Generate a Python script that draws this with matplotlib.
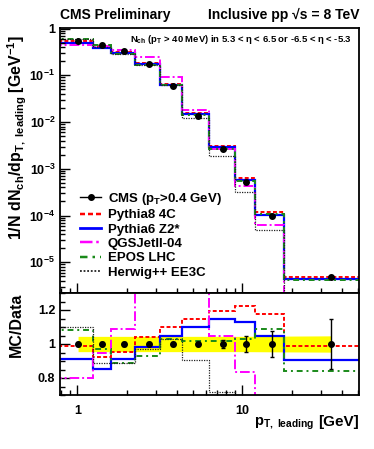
import numpy as np
import matplotlib
matplotlib.use('Agg')
import matplotlib.pyplot as plt
from matplotlib.lines import Line2D
from matplotlib.ticker import FuncFormatter, FixedLocator, LogLocator, NullFormatter

# --- Fontes (estilo ROOT, tudo em negrito) ---
plt.rcParams['font.family'] = ['Liberation Sans', 'DejaVu Sans']
plt.rcParams['font.weight'] = 'bold'
plt.rcParams['mathtext.fontset'] = 'custom'
plt.rcParams['mathtext.rm'] = 'Liberation Sans:bold'
plt.rcParams['mathtext.bf'] = 'Liberation Sans:bold'
plt.rcParams['mathtext.it'] = 'Liberation Sans:bold'
plt.rcParams['mathtext.default'] = 'bf'

# --- Dados ---
bin_edges = [0.7, 1.25, 1.6, 2.25, 3.15, 4.3, 6.3, 9.0, 12.0, 18.0, 60.0]
pt_data = [1.01, 1.42, 1.93, 2.72, 3.82, 5.41, 7.67, 10.6, 15.2, 34.5]
dn_data = [0.553, 0.454, 0.327, 0.175, 0.060, 0.0137, 2.6e-3, 5.2e-4, 9.9e-5, 4.9e-6]
stat_err = [0.01, 0.01, 0.01, 0.01, 0.01, 0.01, 0.023, 0.045, 0.075, 0.145]
syst_band = [0.045, 0.045, 0.045, 0.045, 0.045, 0.045, 0.045, 0.045, 0.046, 0.048]

# razão MC/Data por bin
ratio_pythia8 = [0.99, 0.925, 0.955, 1.04, 1.10, 1.15, 1.195, 1.225, 1.175, 0.99]
ratio_pythia6 = [0.91, 0.855, 0.91, 0.98, 1.045, 1.10, 1.148, 1.128, 1.048, 0.907]
ratio_qgsjet = [0.80, 0.95, 1.09, 1.39, 1.50, 1.33, 1.045, 0.835, 0.62, 0.30]
ratio_epos = [1.08, 0.97, 0.89, 0.93, 1.03, 1.02, 1.015, 1.03, 1.09, 0.842]
ratio_herwig = [1.10, 0.89, 0.89, 0.97, 1.03, 0.905, 0.72, 0.60, 0.49, 0.46]

models = [
    ('Pythia8 4C', ratio_pythia8, '#ff0000', (0, (2.0, 1.2)), 1.4),
    ('Pythia6 Z2*', ratio_pythia6, '#0000ff', '-', 1.6),
    ('QGSJetII-04', ratio_qgsjet, '#ff00ff', (0, (5, 1.5, 1, 1.5)), 1.4),
    ('EPOS LHC', ratio_epos, '#1a8a1a', (0, (3, 2, 1, 2)), 1.4),
    ('Herwig++ EE3C', ratio_herwig, '#222222', (0, (1, 1)), 0.9),
]

W, H = 374, 449
fig = plt.figure(figsize=(W / 100, H / 100), dpi=100)
ax_top = fig.add_axes([60 / W, 1 - 293 / H, 299 / W, 265 / H])
ax_rat = fig.add_axes([60 / W, 1 - 395 / H, 299 / W, 102 / H])

# --- Painel superior ---
dn = np.array(dn_data)
for name, r, col, ls, lw in models:
    ax_top.stairs(np.array(r) * dn, bin_edges, color=col, linestyle=ls, lw=lw, baseline=None)
ax_top.plot(pt_data, dn_data, 'o', color='black', ms=4, zorder=5)

ax_top.set_xscale('log')
ax_top.set_yscale('log')
ax_top.set_xlim(0.785, 51)
ax_top.set_ylim(2.2e-6, 1.03)
ax_top.yaxis.set_major_locator(FixedLocator([1e-5, 1e-4, 1e-3, 1e-2, 1e-1, 1]))
ax_top.yaxis.set_minor_locator(LogLocator(base=10, subs=np.arange(2, 10)))
ax_top.yaxis.set_minor_formatter(NullFormatter())
ax_top.yaxis.set_major_formatter(FuncFormatter(
    lambda v, p: '1' if abs(v - 1) < 1e-9 else r'$10^{%d}$' % round(np.log10(v))))
ax_top.xaxis.set_major_formatter(NullFormatter())
ax_top.xaxis.set_minor_formatter(NullFormatter())

# --- Painel da razão ---
ax_rat.fill_between(pt_data, 1 - np.array(syst_band), 1 + np.array(syst_band),
                    color='#ffff00', lw=0, zorder=1)
for name, r, col, ls, lw in models:
    ax_rat.stairs(r, bin_edges, color=col, linestyle=ls, lw=lw, baseline=None, zorder=2)
ax_rat.errorbar(pt_data, np.ones(len(pt_data)), yerr=stat_err, fmt='o', color='black',
                ms=4, elinewidth=1.0, capsize=1.5, zorder=5)

ax_rat.set_xscale('log')
ax_rat.set_xlim(0.785, 51)
ax_rat.set_ylim(0.7, 1.3)
ax_rat.yaxis.set_major_locator(FixedLocator([0.8, 1.0, 1.2]))
ax_rat.yaxis.set_minor_locator(FixedLocator(np.arange(0.7, 1.31, 0.05)))
ax_rat.yaxis.set_major_formatter(FuncFormatter(lambda v, p: '%g' % v))
ax_rat.xaxis.set_major_locator(FixedLocator([1, 10]))
ax_rat.xaxis.set_major_formatter(FuncFormatter(lambda v, p: '%g' % v))
ax_rat.xaxis.set_minor_formatter(NullFormatter())

for a in (ax_top, ax_rat):
    for s in a.spines.values():
        s.set_linewidth(1.3)
    a.tick_params(which='both', direction='in', top=False, right=False, width=1.0)
    a.tick_params(which='major', length=7, labelsize=9, pad=5)
    a.tick_params(which='minor', length=3.5)
    a.tick_params(axis='y', which='major', pad=3.5)
ax_rat.tick_params(axis='x', which='major', pad=7)

# --- Textos ---
fig.text(60 / W, 1 - 15 / H, 'CMS Preliminary', fontsize=10, weight='bold',
         ha='left', va='center')
fig.text(359 / W, 1 - 15 / H, 'Inclusive pp √s = 8 TeV', fontsize=10, weight='bold',
         ha='right', va='center')
ax_top.text(0.975, 0.955, r'N$_{ch}$ (p$_{T}$ > 40 MeV) in 5.3 < η < 6.5 or -6.5 < η < -5.3',
            transform=ax_top.transAxes, fontsize=6.8, ha='right', va='center')
fig.text(6 / W, 1 - 35 / H, r'1/N dN$_{ch}$/dp$_{T,\ leading}$ [GeV$^{-1}$]',
         rotation=90, fontsize=11.5, ha='left', va='top')
fig.text(9 / W, 1 - 325 / H, 'MC/Data', rotation=90, fontsize=11.5,
         ha='left', va='center')
fig.text(254 / W, 1 - 426 / H, r'p$_{T,\ leading}$', fontsize=10.5,
         ha='left', va='baseline')
fig.text(359 / W, 1 - 426 / H, '[GeV]', fontsize=11, ha='right', va='baseline')

# --- Legenda ---
handles = [Line2D([], [], color='black', marker='o', ms=4, lw=1.0)]
labels = [r'CMS (p$_{T}$>0.4 GeV)']
for name, r, col, ls, lw in models:
    handles.append(Line2D([], [], color=col, linestyle=ls, lw=lw + 0.4))
    labels.append(name)
fig.legend(handles, labels, loc='upper left', bbox_to_anchor=(80 / W, 1 - 191 / H),
           frameon=False, fontsize=9.5, handlelength=1.6, handletextpad=0.5,
           labelspacing=0.16, borderaxespad=0, borderpad=0)

fig.savefig('out.png', dpi=100)
